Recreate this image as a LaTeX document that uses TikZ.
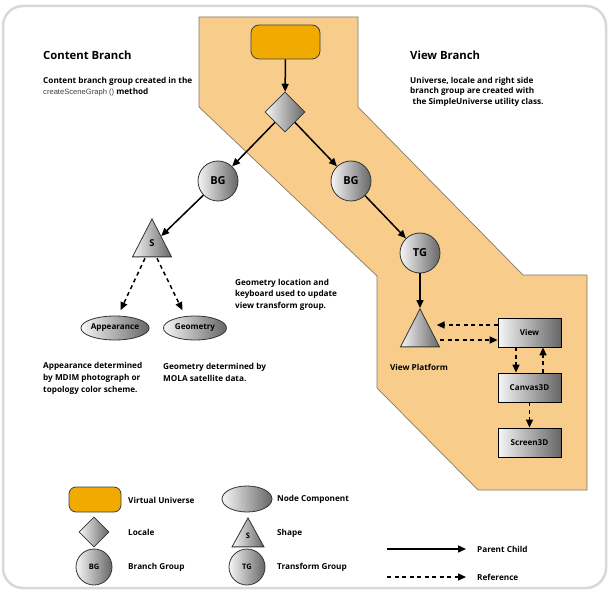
\documentclass[tikz,border=0pt]{standalone}
\usepackage{fontspec}
\setmainfont{Open Sans}
\newfontfamily\helv{Liberation Sans}
\usetikzlibrary{shapes.geometric,arrows.meta}
\definecolor{orangebg}{HTML}{F8CC8A}
\definecolor{vuorange}{HTML}{F0AA00}
\definecolor{shL}{HTML}{F6F6F6}
\definecolor{shR}{HTML}{666666}
\definecolor{framegray}{HTML}{D8D8D8}
\definecolor{edgegray}{HTML}{85786A}
\begin{document}
\begin{tikzpicture}[x=1pt,y=-1pt,
  grad/.style={left color=shL, right color=shR, draw=black!80, line width=0.8pt},
  vubox/.style={rounded corners=8pt, fill=vuorange, draw=black!75, line width=0.8pt, minimum width=69pt, minimum height=34pt, inner sep=0},
  bgc/.style={grad, circle, minimum size=40pt, inner sep=0, font=\bfseries\fontsize{11}{11}\selectfont},
  locs/.style={grad, diamond, minimum width=40pt, minimum height=40pt, inner sep=0},
  tri/.style={grad, isosceles triangle, isosceles triangle apex angle=54, isosceles triangle stretches, shape border rotate=90, minimum width=39pt, minimum height=38pt, inner sep=0},
  nc/.style={grad, ellipse, minimum width=63pt, minimum height=24pt, inner sep=0, font=\bfseries\fontsize{8.1}{8}\selectfont},
  vbox/.style={grad, rectangle, draw=black, minimum width=63pt, minimum height=29pt, inner sep=0, font=\bfseries\fontsize{8.1}{8}\selectfont},
  pc/.style={line width=1.5pt, -{Triangle[length=8pt,width=7pt]}},
  refar/.style={pc, dash pattern=on 4pt off 3.5pt},
  txt/.style={anchor=west, inner sep=0, font=\bfseries\fontsize{8.2}{11}\selectfont, align=left},
  title/.style={anchor=west, inner sep=0, font=\bfseries\fontsize{11.3}{14}\selectfont},
]
\useasboundingbox (0,0) rectangle (609,593);
\draw[framegray, line width=2.5pt, rounded corners=20pt] (3,6) rectangle (606,588);
\draw[fill=orangebg, draw=edgegray, line width=0.7pt] (199,17) -- (358,17) -- (358,107) -- (523,275) -- (587,275) -- (587,490) -- (478,490) -- (377,388) -- (377,276) -- (199,107) -- cycle;

% texts
\node[title] (ct) at (43,55) {Content Branch};
\node[txt] (cs) at (43,86.5) {Content branch group created in the\\{\helv\mdseries\fontsize{7.6}{11}\selectfont\color{black!75}createSceneGraph ()} method};
\node[title] (vt) at (410,55) {View Branch};
\node[txt, font=\bfseries\fontsize{8.2}{10.5}\selectfont] (vs) at (410,91.5) {Universe, locale and right side\\branch group are created with\\\hspace{2.5pt}the SimpleUniverse utility class.};
\node[txt, font=\bfseries\fontsize{8.2}{11.5}\selectfont] (gl) at (235,294.5) {Geometry location and\\keyboard used to update\\view transform group.};
\node[txt, font=\bfseries\fontsize{8.2}{12}\selectfont] (ad) at (43,378) {Appearance determined\\by MDIM photograph or\\topology color scheme.};
\node[txt, font=\bfseries\fontsize{8.2}{12}\selectfont] (gd) at (163,372) {Geometry determined by\\MOLA satellite data.};
\node[inner sep=0, font=\bfseries\fontsize{8.2}{10}\selectfont] (vpt) at (419,367) {View Platform};

% nodes
\node[vubox] (vu) at (285.5,42) {};
\node[locs] (loc) at (285,112) {};
\node[bgc] (bgL) at (218,181) {BG};
\node[bgc] (bgR) at (351,181) {BG};
\node[bgc] (tg) at (420,253) {TG};
\node[tri, anchor=apex] (shape) at (152,218) {};
\node[inner sep=0, font=\bfseries\fontsize{9.5}{10}\selectfont] (slab) at (152,243) {S};
\node[tri, anchor=apex] (vp) at (420,308) {};
\node[nc] (app) at (115,328) {Appearance};
\node[nc] (geo) at (195,328) {Geometry};
\node[vbox] (view) at (529.5,332.5) {View};
\node[vbox] (canvas) at (529.5,387.5) {Canvas3D};
\node[vbox] (screen) at (529.5,442.5) {Screen3D};

% connectors
\draw[pc] (vu) -- (loc);
\draw[pc] (loc) -- (bgL);
\draw[pc] (loc) -- (bgR);
\draw[pc] (bgL) -- (shape);
\draw[pc] (bgR) -- (tg);
\draw[pc] (tg) -- (vp.apex);
\draw[refar, shorten >=6pt] ([xshift=-7pt, yshift=-1pt]shape.lower side) -- ([xshift=3pt]app.north);
\draw[refar, shorten >=6pt] ([xshift=5pt, yshift=-1pt]shape.lower side) -- ([xshift=-10pt]geo.north);
\draw[refar, shorten >=-3.5pt] ([yshift=7.5pt]view.west) -- ([yshift=7.5pt]view.west -| vp.right corner);
\draw[refar] ([yshift=-7.5pt]view.west -| vp.right corner) -- ([yshift=-7.5pt]view.west);
\draw[refar] ([xshift=-13.5pt]view.south) -- ([xshift=-13.5pt]canvas.north);
\draw[refar] ([xshift=13.5pt]canvas.north) -- ([xshift=13.5pt]view.south);
\draw[refar] (canvas) -- (screen);

% legend
\node[vubox, minimum width=52pt, minimum height=25pt, rounded corners=7pt] (lvu) at (95,499.5) {};
\node[txt] (lvut) at (128,500) {Virtual Universe};
\node[locs, minimum width=30pt, minimum height=30pt] (lloc) at (94,532) {};
\node[txt] (llt) at (128,532) {Locale};
\node[bgc, minimum size=36pt, font=\bfseries\fontsize{7.5}{8}\selectfont] (lbg) at (94,567) {BG};
\node[txt] (lbgt) at (128,567) {Branch Group};
\node[nc, minimum width=50pt, minimum height=26pt] (lnc) at (247,499) {};
\node[txt] (lnct) at (277,499) {Node Component};
\node[tri, anchor=apex, minimum width=32pt, minimum height=29pt] (lsh) at (248,517) {};
\node[inner sep=0, font=\bfseries\fontsize{7.5}{8}\selectfont] (lslab) at (248,536) {S};
\node[txt] (lsht) at (277,533) {Shape};
\node[bgc, minimum size=36pt, font=\bfseries\fontsize{7.5}{8}\selectfont] (ltg) at (247,567) {TG};
\node[txt] (ltgt) at (277,567) {Transform Group};
\coordinate (pcA) at (387,549);
\coordinate (pcB) at (466,549);
\draw[pc] (pcA) -- (pcB);
\node[txt] (pct) at (477,549) {Parent Child};
\coordinate (rfA) at (387,577);
\coordinate (rfB) at (466,577);
\draw[refar] (rfA) -- (rfB);
\node[txt] (rft) at (477,577) {Reference};
\end{tikzpicture}
\end{document}
